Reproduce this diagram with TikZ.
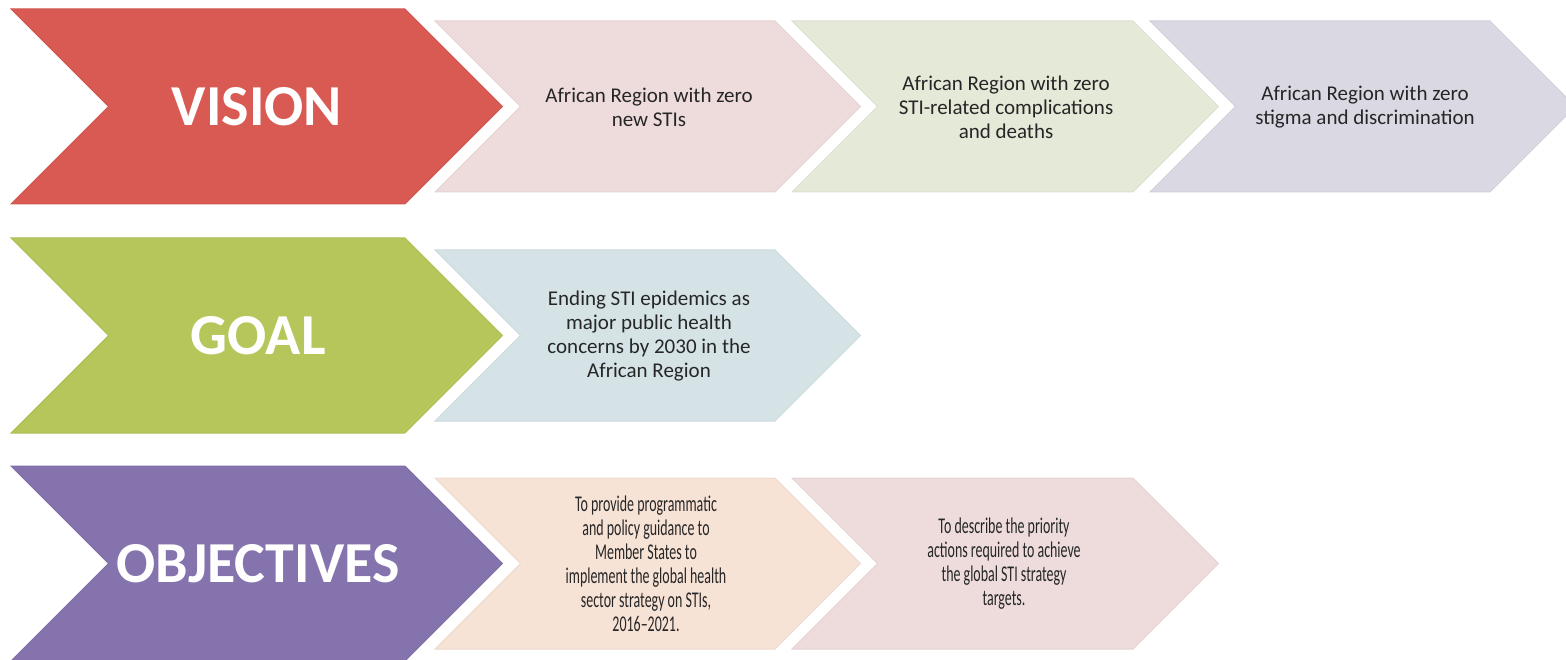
\documentclass[tikz,border=0pt]{standalone}
\usepackage{fontspec}
\setmainfont{Carlito}
\newfontfamily\narrowfont[FakeStretch=0.62,Ligatures=TeX]{Carlito}
\usepackage{tikz}
\usepackage{xcolor}

\definecolor{visionred}{HTML}{D95A53}
\definecolor{goalgreen}{HTML}{B7C65A}
\definecolor{objpurple}{HTML}{8573AE}
\definecolor{vpink}{HTML}{EEDCDD}
\definecolor{vgreen}{HTML}{E5E9D8}
\definecolor{vlav}{HTML}{DAD8E3}
\definecolor{gblue}{HTML}{D5E3E7}
\definecolor{opeach}{HTML}{F7E2D6}
\definecolor{opink}{HTML}{EEDCDC}
\definecolor{textgray}{HTML}{262626}

% chevron: left, top, flat length, height, colour
\newcommand{\chev}[5]{%
  \filldraw[fill=#5, draw=#5!96!black, line width=1pt]
    (#1,#2) -- ++(#3,0) -- ++({#4/2},{#4/2}) -- ++({-#4/2},{#4/2})
    -- ++(-#3,0) -- ++({#4/2},{-#4/2}) -- cycle;}

\begin{document}
\begin{tikzpicture}[x=1pt,y=-1pt,
  titletext/.style={text=white, font=\fontsize{58}{60}\selectfont\bfseries},
  bodytext/.style={text=textgray, align=center, font=\fontsize{21}{24}\selectfont},
  narrowtext/.style={text=textgray, align=center, font=\narrowfont\fontsize{22.5}{24}\selectfont}]
\useasboundingbox (0,0) rectangle (1566,660);

% Vision
\chev{11}{9}{394}{195}{visionred}
\node[titletext] (vision) at (257,107) {VISION};
\chev{435}{21}{340}{171}{vpink}
\node[bodytext] (v1) at (649,107) {African Region with zero\\new STIs};
\chev{792}{21}{341}{171}{vgreen}
\node[bodytext] (v2) at (1006,107) {African Region with zero\\STI-related complications\\and deaths};
\chev{1150}{21}{340}{171}{vlav}
\node[bodytext] (v3) at (1365,107) {African Region with zero\\stigma and discrimination};

% Goal
\chev{11}{238}{394}{195}{goalgreen}
\node[titletext] (goal) at (258,336) {GOAL};
\chev{435}{250}{340}{171}{gblue}
\node[bodytext] (g1) at (649,336) {Ending STI epidemics as\\major public health\\concerns by 2030 in the\\African Region};

% Objectives
\chev{11}{466}{394}{195}{objpurple}
\node[titletext] (objectives) at (258,564) {OBJECTIVES};
\chev{435}{478}{340}{171}{opeach}
\node[narrowtext] (o1) at (646,564) {To provide programmatic\\and policy guidance to\\Member States to\\implement the global health\\sector strategy on STIs,\\2016--2021.};
\chev{792}{478}{341}{171}{opink}
\node[narrowtext] (o2) at (1004,564) {To describe the priority\\actions required to achieve\\the global STI strategy\\targets.};
\end{tikzpicture}
\end{document}
